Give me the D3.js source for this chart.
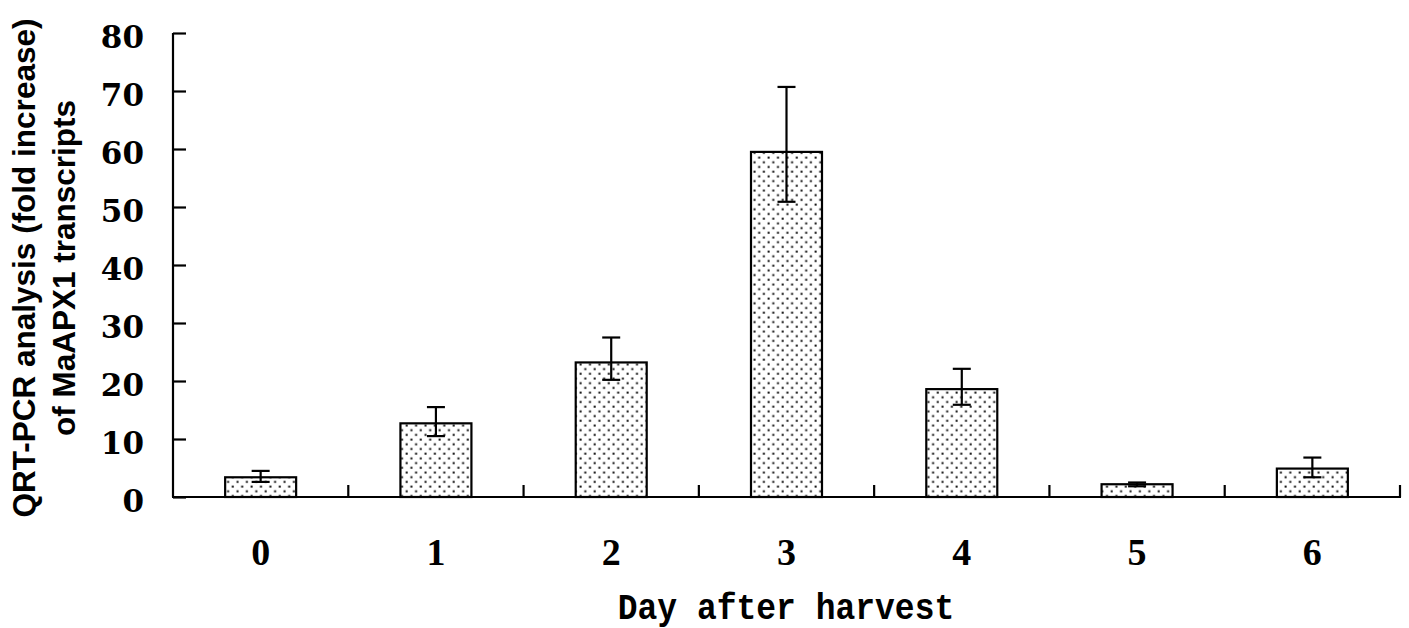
<!DOCTYPE html>
<html><head><meta charset="utf-8">
<script src="https://cdn.jsdelivr.net/npm/d3@7"></script>
<style>body{margin:0;background:#fff}</style>
</head><body>
<svg id="c" width="1409" height="628"></svg>
<script>
const days = ["0","1","2","3","4","5","6"];
const means = [3.4, 12.7, 23.2, 59.5, 18.6, 2.2, 4.9];
const errUp = [1.1, 2.8, 4.3, 11.2, 3.5, 0.3, 1.9];
const errDown = [0.8, 2.2, 3.0, 8.6, 2.7, 0.35, 1.5];
const yTicks = [0,10,20,30,40,50,60,70,80];

const svg = d3.select("#c");
const x = d3.scaleBand().domain(days).range([173,1400]);
const y = d3.scaleLinear().domain([0,80]).range([497,33]);
const bw = x.bandwidth()*0.405;

const defs = svg.append("defs");
const pat = defs.append("pattern").attr("id","dots").attr("patternUnits","userSpaceOnUse")
  .attr("width",9.4).attr("height",9.4);
pat.append("rect").attr("width",9.4).attr("height",9.4).attr("fill","#fff");
pat.append("rect").attr("x",1.5).attr("y",1.5).attr("width",2).attr("height",2).attr("fill","#111");
pat.append("rect").attr("x",6.2).attr("y",6.2).attr("width",2).attr("height",2).attr("fill","#111");

const data = days.map((d,i)=>({d, m:means[i], up:errUp[i], dn:errDown[i]}));

svg.selectAll("rect.bar").data(data).join("rect").attr("class","bar")
  .attr("x", d=>x(d.d)+x.bandwidth()/2-bw/2)
  .attr("y", d=>y(d.m))
  .attr("width", bw)
  .attr("height", d=>y(0)-y(d.m))
  .attr("fill","url(#dots)").attr("stroke","#000").attr("stroke-width",2.2);

const eg = svg.append("g").attr("stroke","#000").attr("stroke-width",2.2);
data.forEach(d=>{
  const cx = x(d.d)+x.bandwidth()/2;
  const t = y(d.m+d.up), b = y(d.m-d.dn);
  eg.append("line").attr("x1",cx).attr("x2",cx).attr("y1",t).attr("y2",b);
  eg.append("line").attr("x1",cx-9).attr("x2",cx+9).attr("y1",t).attr("y2",t);
  eg.append("line").attr("x1",cx-9).attr("x2",cx+9).attr("y1",b).attr("y2",b);
});

const ya = svg.append("g").attr("transform","translate(173,0)")
  .call(d3.axisRight(y).tickValues(yTicks).tickSize(13).tickFormat(""));
ya.select(".domain").attr("d","M0,33V497").attr("stroke-width",2.2);
ya.selectAll(".tick line").attr("stroke-width",2.2);
svg.append("g").selectAll("text").data(yTicks).join("text")
  .attr("x",144).attr("y",d=>y(d)+4).attr("dy","0.36em")
  .attr("text-anchor","end")
  .style("font-family","'DejaVu Serif'").style("font-weight","bold").style("font-size","31px")
  .text(d=>d);

const xa = svg.append("g").attr("transform","translate(0,497)");
xa.append("line").attr("x1",172).attr("x2",1401).attr("y1",0).attr("y2",0).attr("stroke","#000").attr("stroke-width",2.2);
const bounds = days.map(d=>x(d)).concat([x.range()[1]]);
xa.selectAll("line.tk").data(bounds.slice(1)).join("line").attr("class","tk")
  .attr("x1",d=>d).attr("x2",d=>d).attr("y1",0).attr("y2",-12)
  .attr("stroke","#000").attr("stroke-width",2.2);
svg.append("g").selectAll("text").data(days).join("text")
  .attr("x",d=>x(d)+x.bandwidth()/2).attr("y",565)
  .attr("text-anchor","middle")
  .style("font-family","'Liberation Serif'").style("font-weight","bold").style("font-size","38px")
  .text(d=>d);

svg.append("text").attr("transform","translate(786,619) scale(1,1.1)")
  .attr("text-anchor","middle")
  .style("font-family","'Liberation Mono'").style("font-weight","bold").style("font-size","33px")
  .text("Day after harvest");

const yt = svg.append("text").attr("transform","translate(0,268) rotate(-90)")
  .attr("text-anchor","middle")
  .style("font-family","'Liberation Sans', Arial").style("font-weight","bold").style("font-size","31.5px");
yt.append("tspan").attr("x",0).attr("y",35).text("QRT-PCR analysis (fold increase)");
yt.append("tspan").attr("x",0).attr("y",75).text("of MaAPX1 transcripts");
</script>
</body></html>
